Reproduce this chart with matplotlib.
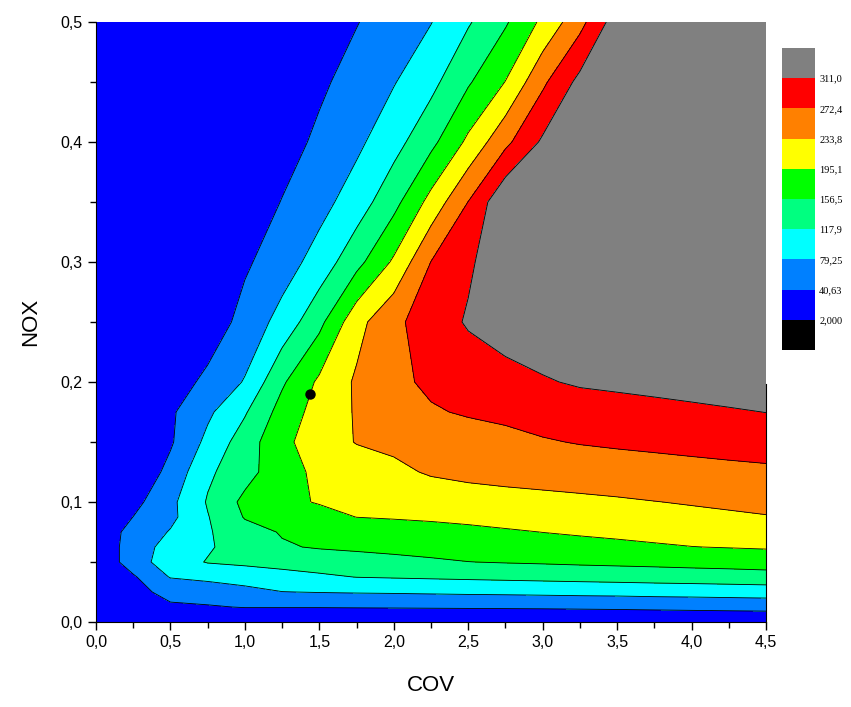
import numpy as np
import matplotlib
matplotlib.use('Agg')
import matplotlib.pyplot as plt
from matplotlib.colors import ListedColormap, BoundaryNorm
from matplotlib.ticker import FuncFormatter, MultipleLocator
import matplotlib.cm as cm

# grid
cov = [0.0, 0.25, 0.5, 0.75, 1.0, 1.25, 1.5, 1.75, 2.0, 2.25, 2.5, 2.75,
       3.0, 3.25, 3.5, 3.75, 4.0, 4.25, 4.5]
nox = [0.0, 0.0125, 0.025, 0.0375, 0.05, 0.0625, 0.075, 0.0875, 0.1, 0.125,
       0.15, 0.175, 0.2, 0.25, 0.3, 0.35, 0.4, 0.45, 0.5]

# one row per nox value, one column per cov value
o3 = [
    [8, 8, 8, 8, 8, 8, 8, 8, 8, 8, 8, 8, 8, 8, 8, 8, 8, 8, 8],
    [8, 20, 38, 38, 42, 42, 42, 42.5, 43, 43.5, 44, 44.5, 45, 46, 47, 48.5, 50, 51.5, 53],
    [8, 35, 46, 56, 67, 78.5, 80.5, 82, 83, 84.5, 86, 87, 88.5, 90, 91, 93, 94, 95.5, 97],
    [8, 36, 81.5, 89, 97, 105, 112, 118.5, 120.5, 122.5, 124.5, 126.5, 128.5, 130.5, 132.5, 134.5, 136.5, 138.5, 141],
    [8, 60, 100, 120, 125, 130, 135, 141, 146, 151, 156, 158.5, 160.5, 163, 165, 167, 169.5, 171.5, 174],
    [8, 60, 93, 114, 134, 153, 159.5, 163, 166.5, 170, 173.5, 177, 180.5, 184, 187.5, 191, 194.5, 196.5, 198.5],
    [19, 51, 82, 114, 143, 159, 164.5, 170, 175, 180, 185.5, 191, 195.5, 199, 202, 205.5, 208.5, 212, 215],
    [8, 41, 70, 116, 159, 171, 183, 195.5, 198.5, 201.5, 205, 208.5, 211.5, 215, 218.5, 221.5, 225, 228.5, 232],
    [6, 29, 70, 121, 166, 187, 197.5, 201.5, 205.5, 209.5, 213.5, 217, 221, 225, 229, 233, 236.5, 240, 243.5],
    [6, 8, 52, 111, 142, 181, 203, 214, 225, 238, 245, 250, 253, 255.5, 257, 258.5, 261, 263.5, 266],
    [6, 8, 36, 89, 137, 185.5, 215.5, 235.5, 242.5, 249.5, 256, 263, 270, 274, 277, 280, 283, 286, 288.5],
    [6, 8, 35, 72, 114, 171.5, 211, 237, 253, 269, 276, 280, 284.5, 289, 293.5, 298, 302.5, 307, 311.5],
    [6, 8, 20, 50, 82, 151, 202, 239, 264, 279, 288, 297, 307, 316, 320, 324, 328, 332, 336],
    [6, 7, 8, 17, 54, 93, 146, 221, 264, 291, 315, 330, 340, 345, 350, 352, 355, 357, 360],
    [6, 7, 8, 9, 35, 61, 95, 144, 201, 273, 305, 337, 345, 350, 353, 356, 358, 360, 362],
    [6, 7, 8, 10, 17, 42, 66, 98, 144, 208, 273, 345, 350, 355, 358, 360, 362, 365, 368],
    [6, 7, 8, 8, 9, 25, 48, 71, 104, 146, 203, 263, 317, 335, 345, 352, 360, 365, 370],
    [6, 7, 8, 9, 10, 12, 34, 55, 77, 107, 152, 196, 265, 322, 340, 350, 360, 368, 375],
    [6, 7, 8, 10, 12, 14, 19, 39, 59, 78, 114, 152, 203, 260, 332, 350, 360, 370, 380],
]

levels = [2.000, 40.63, 79.25, 117.9, 156.5, 195.1, 233.8, 272.4, 311.0]
level_labels = ['2,000', '40,63', '79,25', '117,9', '156,5', '195,1',
                '233,8', '272,4', '311,0']
band_colors = ['#000000', '#0000ff', '#0080ff', '#00ffff', '#00ff80',
               '#00ff00', '#ffff00', '#ff8000', '#ff0000', '#808080']

point_cov = [1.44]
point_nox = [0.19]

fig = plt.figure(figsize=(8.51, 7.07), dpi=100)
ax = fig.add_axes([0.1128, 0.1202, 0.7873, 0.8487])

Z = np.array(o3)
bounds = [-1000] + levels + [10000]
ax.contourf(cov, nox, Z, levels=bounds, colors=band_colors)
ax.contour(cov, nox, Z, levels=levels, colors='k', linewidths=0.6)
ax.plot(point_cov, point_nox, 'o', color='k', ms=6.5)

ax.set_xlim(0, 4.5)
ax.set_ylim(0, 0.5)
ax.xaxis.set_major_locator(MultipleLocator(0.5))
ax.xaxis.set_minor_locator(MultipleLocator(0.25))
ax.yaxis.set_major_locator(MultipleLocator(0.1))
ax.yaxis.set_minor_locator(MultipleLocator(0.05))
comma = FuncFormatter(lambda v, p: f'{v:.1f}'.replace('.', ','))
ax.xaxis.set_major_formatter(comma)
ax.yaxis.set_major_formatter(comma)
ax.tick_params(which='major', direction='out', length=6, width=1, labelsize=11.5)
ax.tick_params(which='minor', direction='out', length=4, width=1)
for lab in ax.get_xticklabels() + ax.get_yticklabels():
    lab.set_fontfamily('Liberation Sans')

ax.spines['top'].set_visible(False)
ax.spines['right'].set_bounds(0, 0.198)

ax.set_xlabel('COV', fontsize=16, family='Liberation Sans', labelpad=18)
ax.set_ylabel('NOX', fontsize=16, family='Liberation Sans', labelpad=14)

# colour scale
cax = fig.add_axes([0.9189, 0.505, 0.0388, 0.4272])
cmap = ListedColormap(band_colors)
norm = BoundaryNorm(bounds, cmap.N)
cb = fig.colorbar(cm.ScalarMappable(norm=norm, cmap=cmap), cax=cax,
                  boundaries=bounds, spacing='uniform', ticks=levels)
cb.set_ticklabels(level_labels)
cb.minorticks_off()
cb.outline.set_visible(False)
cax.tick_params(which='both', length=0, labelsize=7.5, pad=3)
for lab in cax.get_yticklabels():
    lab.set_fontfamily('Liberation Serif')

fig.savefig('out.png', dpi=100)
